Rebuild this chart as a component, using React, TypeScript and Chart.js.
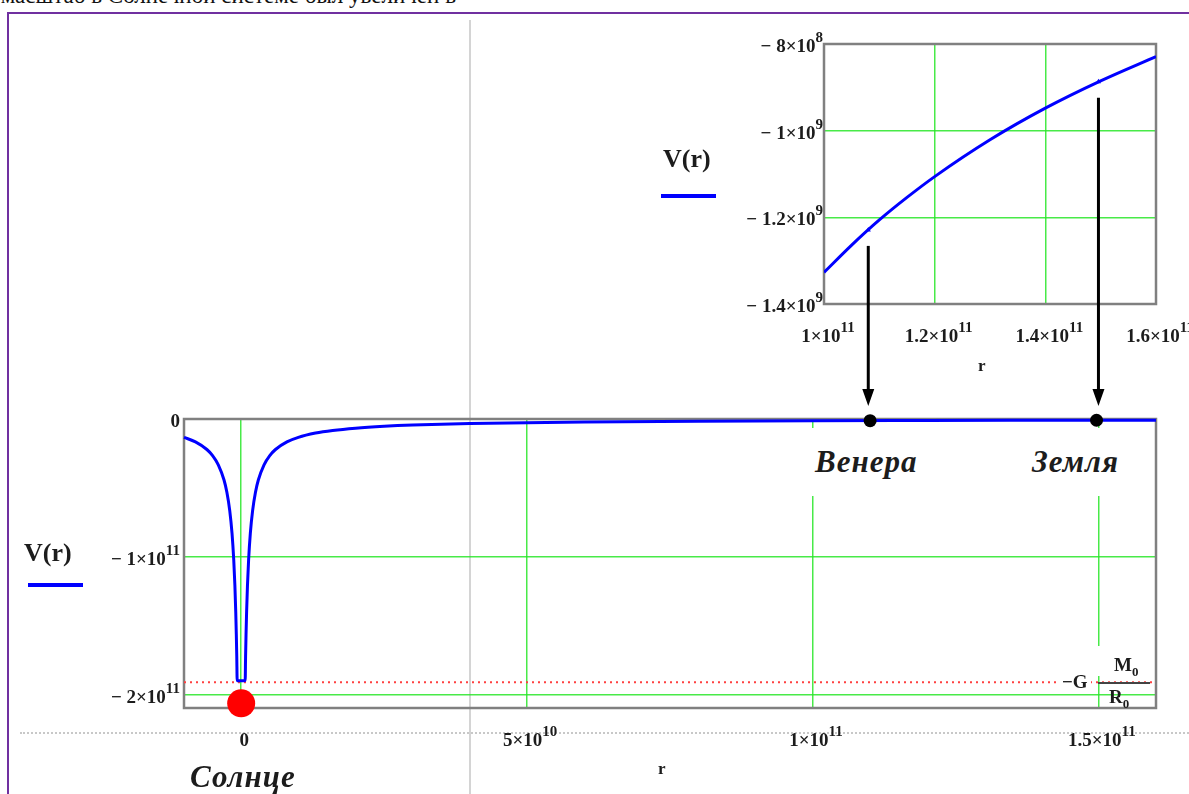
import React, { useEffect, useRef } from 'react';
import { Chart, registerables } from 'chart.js';

Chart.register(...registerables);

// ---------------- data ----------------
// Main chart: potential V(r) of the Sun, r in metres, V in J/kg
const mainR = [
  -1.0e10, -8e9, -6e9, -5e9, -4e9, -3e9, -2.5e9, -2e9, -1.6e9, -1.3e9, -1.1e9, -0.95e9, -0.85e9, -0.77e9, -0.7e9,
  0.7e9, 0.77e9, 0.85e9, 0.95e9, 1.1e9, 1.3e9, 1.6e9, 2e9, 2.5e9, 3e9, 4e9, 5e9, 6e9, 8e9,
  1.0e10, 1.3e10, 1.6e10, 2e10, 2.5e10, 3e10, 4e10, 5e10, 6e10, 8e10, 1.0e11, 1.2e11, 1.4e11, 1.6e11,
];
const mainV = [
  -1.33e10, -1.66e10, -2.21e10, -2.65e10, -3.32e10, -4.42e10, -5.31e10, -6.64e10, -8.29e10, -1.021e11, -1.206e11, -1.397e11, -1.561e11, -1.723e11, -1.896e11,
  -1.896e11, -1.723e11, -1.561e11, -1.397e11, -1.206e11, -1.021e11, -8.29e10, -6.64e10, -5.31e10, -4.42e10, -3.32e10, -2.65e10, -2.21e10, -1.66e10,
  -1.33e10, -1.02e10, -8.29e9, -6.64e9, -5.31e9, -4.42e9, -3.32e9, -2.65e9, -2.21e9, -1.66e9, -1.33e9, -1.11e9, -9.5e8, -8.3e8,
];
const surfaceLevel = -1.907e11; // -G*M0/R0
const sunR = [0];
const sunV = [-2.06e11];
const planetR = [1.1e11, 1.496e11];
const planetV = [-1.2e9, -0.89e9];

// Inset chart
const insetR = [1.0e11, 1.05e11, 1.1e11, 1.15e11, 1.2e11, 1.3e11, 1.4e11, 1.5e11, 1.6e11];
const insetV = [-1.327e9, -1.264e9, -1.206e9, -1.154e9, -1.106e9, -1.021e9, -9.48e8, -8.85e8, -8.29e8];
const insetMarkR = [1.08e11, 1.496e11];
const insetMarkV = [-1.229e9, -8.87e8];

// Ticks
const mainXTicks = [0, 5e10, 1e11, 1.5e11];
const mainYTicks = [0, -1e11, -2e11];
const insetXTicks = [1e11, 1.2e11, 1.4e11, 1.6e11];
const insetYTicks = [-8e8, -1e9, -1.2e9, -1.4e9];

// ---------------- helpers ----------------
const SERIF = '"Liberation Serif", "Times New Roman", serif';
const GRID = 'rgba(40, 230, 40, 0.85)';
const TXT = '#1c1c1c';

function sciParts(v: number): [string, string] {
  if (v === 0) return ['0', ''];
  const neg = v < 0;
  const a = Math.abs(v);
  const e = Math.floor(Math.log10(a) + 1e-9);
  const m = Math.round((a / Math.pow(10, e)) * 10) / 10;
  return [(neg ? '\u2212 ' : '') + String(m) + '\u00d710', String(e)];
}

function tickPlugin(opts: { xBase: number; xShift: number; yGap: number; yBase: number; expRise: number }) {
  return {
    id: 'sciTicks',
    beforeDatasetsDraw(chart: any) {
      const { ctx, chartArea: a } = chart;
      ctx.save();
      ctx.strokeStyle = '#808080';
      ctx.lineWidth = 2.5;
      ctx.strokeRect(a.left, a.top, a.right - a.left, a.bottom - a.top);
      ctx.restore();
    },
    afterDraw(chart: any) {
      const { ctx, chartArea: a } = chart;
      const xs = chart.scales.x;
      const ys = chart.scales.y;
      ctx.save();
      ctx.fillStyle = TXT;
      ctx.textBaseline = 'alphabetic';
      ctx.textAlign = 'left';
      const mFont = `bold 19px ${SERIF}`;
      const eFont = `bold 15px ${SERIF}`;
      xs.ticks.forEach((t: any) => {
        const [m, e] = sciParts(t.value);
        ctx.font = mFont;
        const wm = ctx.measureText(m).width;
        ctx.font = eFont;
        const we = e ? ctx.measureText(e).width : 0;
        const px = xs.getPixelForValue(t.value);
        const x0 = px - (wm + we) / 2 + opts.xShift;
        const by = a.bottom + opts.xBase;
        ctx.font = mFont;
        ctx.fillText(m, x0, by);
        if (e) {
          ctx.font = eFont;
          ctx.fillText(e, x0 + wm, by - opts.expRise);
        }
      });
      ys.ticks.forEach((t: any) => {
        const [m, e] = sciParts(t.value);
        ctx.font = mFont;
        const wm = ctx.measureText(m).width;
        ctx.font = eFont;
        const we = e ? ctx.measureText(e).width : 0;
        const py = ys.getPixelForValue(t.value);
        const right = a.left - opts.yGap;
        const by = py + opts.yBase;
        ctx.font = mFont;
        ctx.fillText(m, right - we - wm, by);
        if (e) {
          ctx.font = eFont;
          ctx.fillText(e, right - we, by - opts.expRise);
        }
      });
      ctx.restore();
    },
  };
}

const arrowPlugin = {
  id: 'planetArrows',
  afterDraw(chart: any) {
    const { ctx } = chart;
    const xs = chart.scales.x;
    const ys = chart.scales.y;
    ctx.save();
    ctx.strokeStyle = '#000';
    ctx.fillStyle = '#000';
    ctx.lineWidth = 3;
    insetMarkR.forEach((r, i) => {
      const x = xs.getPixelForValue(r);
      const top = ys.getPixelForValue(insetMarkV[i]) + 16;
      const tip = 406;
      ctx.beginPath();
      ctx.moveTo(x, top);
      ctx.lineTo(x, tip - 14);
      ctx.stroke();
      ctx.beginPath();
      ctx.moveTo(x - 6, tip - 17);
      ctx.lineTo(x + 6, tip - 17);
      ctx.lineTo(x, tip);
      ctx.closePath();
      ctx.fill();
    });
    ctx.restore();
  },
};

function axis(min: number, max: number, ticks: number[]) {
  return {
    type: 'linear' as const,
    min,
    max,
    afterBuildTicks: (scale: any) => {
      scale.ticks = ticks.map((v) => ({ value: v }));
    },
    ticks: { display: false },
    grid: { color: GRID, lineWidth: 1.5, drawTicks: false },
    border: { display: false },
  };
}

const W = 1189;
const H = 794;

export default function App() {
  const mainRef = useRef<HTMLCanvasElement>(null);
  const insetRef = useRef<HTMLCanvasElement>(null);

  useEffect(() => {
    const charts: Chart[] = [];
    if (mainRef.current) {
      charts.push(
        new Chart(mainRef.current, {
          type: 'line',
          data: {
            datasets: [
              {
                type: 'scatter',
                data: sunR.map((r, i) => ({ x: r, y: sunV[i] })),
                pointRadius: 14,
                pointBackgroundColor: '#ff0000',
                pointBorderWidth: 0,
                clip: false as any,
                order: 0,
              } as any,
              {
                type: 'scatter',
                data: planetR.map((r, i) => ({ x: r, y: planetV[i] })),
                pointRadius: 6.5,
                pointBackgroundColor: '#000',
                pointBorderWidth: 0,
                clip: false as any,
                order: 1,
              } as any,
              {
                label: 'V(r)',
                data: mainR.map((r, i) => ({ x: r, y: mainV[i] })),
                borderColor: '#0000ff',
                borderWidth: 3,
                pointRadius: 0,
                cubicInterpolationMode: 'monotone',
                clip: false as any,
                order: 2,
              },
              {
                label: 'surface',
                data: [
                  { x: -1e10, y: surfaceLevel },
                  { x: 1.6e11, y: surfaceLevel },
                ],
                borderColor: '#ff4040',
                borderWidth: 2,
                borderDash: [2, 4],
                pointRadius: 0,
                order: 3,
              },
            ],
          },
          options: {
            responsive: false,
            animation: false,
            events: [],
            layout: { padding: { left: 184, top: 419, right: W - 1156, bottom: H - 708 } },
            plugins: { legend: { display: false }, tooltip: { enabled: false } },
            scales: {
              x: axis(-1e10, 1.6e11, mainXTicks),
              y: axis(-2.094e11, 0, mainYTicks),
            },
          },
          plugins: [tickPlugin({ xBase: 38, xShift: 3, yGap: 4, yBase: 8, expRise: 10 })],
        })
      );
    }
    if (insetRef.current) {
      charts.push(
        new Chart(insetRef.current, {
          type: 'line',
          data: {
            datasets: [
              {
                type: 'scatter',
                data: insetMarkR.map((r, i) => ({ x: r, y: insetMarkV[i] })),
                pointStyle: 'triangle',
                pointRadius: 3,
                pointBackgroundColor: '#0000ff',
                pointBorderWidth: 0,
                order: 0,
              } as any,
              {
                label: 'V(r)',
                data: insetR.map((r, i) => ({ x: r, y: insetV[i] })),
                borderColor: '#0000ff',
                borderWidth: 3,
                pointRadius: 0,
                cubicInterpolationMode: 'monotone',
                order: 1,
              },
            ],
          },
          options: {
            responsive: false,
            animation: false,
            events: [],
            layout: { padding: { left: 824, top: 44, right: W - 1156, bottom: H - 304 } },
            plugins: { legend: { display: false }, tooltip: { enabled: false } },
            scales: {
              x: axis(1e11, 1.6e11, insetXTicks),
              y: axis(-1.4e9, -8e8, insetYTicks),
            },
          },
          plugins: [tickPlugin({ xBase: 38, xShift: 4, yGap: 1, yBase: 8, expRise: 10 }), arrowPlugin],
        })
      );
    }
    return () => charts.forEach((c) => c.destroy());
  }, []);

  const abs = (s: React.CSSProperties): React.CSSProperties => ({ position: 'absolute', ...s });
  const label: React.CSSProperties = {
    fontFamily: SERIF,
    fontStyle: 'italic',
    fontWeight: 'bold',
    fontSize: 31,
    letterSpacing: 1,
    lineHeight: '31px',
    color: TXT,
    whiteSpace: 'nowrap',
  };
  const legendText: React.CSSProperties = {
    fontFamily: SERIF,
    fontWeight: 'bold',
    fontSize: 26,
    lineHeight: '26px',
    color: TXT,
    whiteSpace: 'nowrap',
  };
  const formula: React.CSSProperties = {
    fontFamily: SERIF,
    fontWeight: 'bold',
    fontSize: 19,
    lineHeight: '20px',
    color: TXT,
    whiteSpace: 'nowrap',
  };

  return (
    <div style={{ position: 'fixed', left: 0, top: 0, width: W, height: H, overflow: 'hidden', background: '#fff' }}>
      {/* cut-off line of text above the figure */}
      <div style={abs({ right: W - 456, top: -16, fontFamily: SERIF, fontSize: 23, lineHeight: '23px', whiteSpace: 'nowrap', color: '#111' })}>
        масштаб в Солнечной системе был увеличен в
      </div>
      {/* purple frame */}
      <div style={abs({ left: 7, top: 12, width: W, height: H, borderTop: '2px solid #7030a0', borderLeft: '2px solid #7030a0' })} />
      {/* page guide lines */}
      <div style={abs({ left: 469, top: 20, width: 2, height: H, background: '#d4d4d4' })} />
      <div style={abs({ left: 20, top: 732, width: W, height: 0, borderTop: '2px dotted #c8c8c8' })} />

      <canvas ref={mainRef} width={W} height={H} style={abs({ left: 0, top: 0, zIndex: 1 })} />
      <canvas ref={insetRef} width={W} height={H} style={abs({ left: 0, top: 0, zIndex: 2 })} />

      {/* legends */}
      <div style={abs({ left: 24, top: 540, zIndex: 3, ...legendText })}>V(r)</div>
      <div style={abs({ left: 28, top: 583, width: 55, height: 4, background: '#0000ff', zIndex: 3 })} />
      <div style={abs({ left: 663, top: 146, zIndex: 3, ...legendText })}>V(r)</div>
      <div style={abs({ left: 661, top: 194, width: 55, height: 4, background: '#0000ff', zIndex: 3 })} />

      {/* axis titles */}
      <div style={abs({ left: 658, top: 760, zIndex: 3, fontFamily: SERIF, fontWeight: 'bold', fontSize: 17, lineHeight: '17px', color: TXT })}>r</div>
      <div style={abs({ left: 978, top: 357, zIndex: 3, fontFamily: SERIF, fontWeight: 'bold', fontSize: 17, lineHeight: '17px', color: TXT })}>r</div>

      {/* object labels */}
      <div style={abs({ left: 803, top: 428, paddingLeft: 12, paddingRight: 6, paddingTop: 18, paddingBottom: 19, background: '#fff', zIndex: 3, ...label })}>Венера</div>
      <div style={abs({ left: 1024, top: 428, paddingLeft: 8, paddingRight: 6, paddingTop: 18, paddingBottom: 19, background: '#fff', zIndex: 3, ...label })}>Земля</div>
      <div style={abs({ left: 190, top: 761, zIndex: 3, ...label })}>Солнце</div>

      {/* -G M0/R0 */}
      <div style={abs({ left: 1059, top: 672, padding: '0 3px', background: '#fff', zIndex: 3, ...formula })}>
        {'\u2212'}G
      </div>
      <div style={abs({ left: 1094, top: 646, width: 56, height: 30, background: '#fff', zIndex: 3 })} />
      <div style={abs({ left: 1114, top: 655, zIndex: 4, ...formula })}>
        M<sub style={{ fontSize: 13 }}>0</sub>
      </div>
      <div style={abs({ left: 1098, top: 682, width: 52, height: 2, background: '#444', zIndex: 4 })} />
      <div style={abs({ left: 1109, top: 687, zIndex: 4, ...formula })}>
        R<sub style={{ fontSize: 13 }}>0</sub>
      </div>
    </div>
  );
}
